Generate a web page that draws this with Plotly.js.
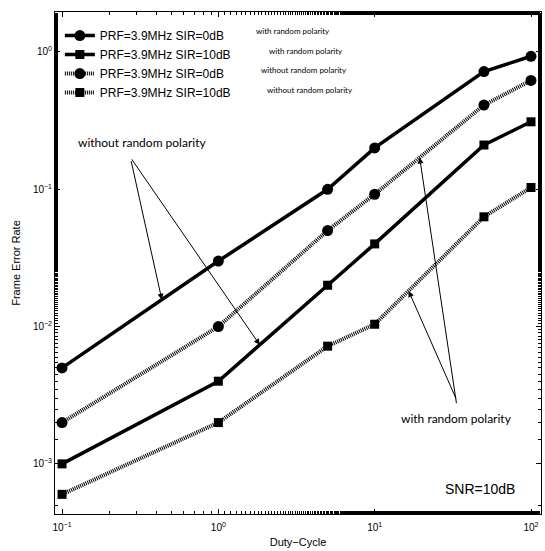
<!DOCTYPE html>
<html>
<head>
<meta charset="utf-8">
<script src="https://cdn.plot.ly/plotly-3.0.1.min.js"></script>
<style>
  html, body { margin: 0; padding: 0; background: #fff; }
  #chart { width: 545px; height: 551px; }
</style>
</head>
<body>
<div id="chart"></div>
<script>
// Duty-cycle values (x) shared by every curve
const dutyCycle = [0.1, 1, 5, 10, 50, 100];

// Frame error rate for each configuration
const ferSir0Random    = [0.005, 0.03, 0.1, 0.2, 0.72, 0.93];
const ferSir10Random   = [0.001, 0.004, 0.02, 0.04, 0.21, 0.31];
const ferSir0NoRandom  = [0.002, 0.01, 0.05, 0.092, 0.41, 0.62];
const ferSir10NoRandom = [0.0006, 0.002, 0.0072, 0.0104, 0.063, 0.103];

const seriesNames = [
  'PRF=3.9MHz SIR=0dB',
  'PRF=3.9MHz SIR=10dB',
  'PRF=3.9MHz SIR=0dB',
  'PRF=3.9MHz SIR=10dB'
];
const seriesNotes = [
  'with random polarity',
  'with random polarity',
  'without random polarity',
  'without random polarity'
];

const xTickVals = [0.1, 1, 10, 100];
const xTickText = ['10<sup>\u22121</sup>', '10<sup>0</sup>', '10<sup>1</sup>', '10<sup>2</sup>'];
const yTickVals = [0.001, 0.01, 0.1, 1];
const yTickText = ['10<sup>\u22123</sup>', '10<sup>\u22122</sup>', '10<sup>\u22121</sup>', '10<sup>0</sup>'];

const FONT = 'Liberation Sans, Arial, Helvetica, sans-serif';
const NOTE_FONT = 'Lato, Open Sans, sans-serif';

const solidLine = { color: 'black', width: 3.5 };
const hatchLine = { color: 'black', width: 4, dash: '1px,1px' };

function curve(y, name, line, symbol, size) {
  return {
    x: dutyCycle, y: y, name: name, type: 'scatter', mode: 'lines+markers',
    line: line,
    marker: { symbol: symbol, size: size, color: 'black' }
  };
}

const traces = [
  curve(ferSir0Random,    seriesNames[0], solidLine, 'circle', 11),
  curve(ferSir10Random,   seriesNames[1], solidLine, 'square', 9),
  curve(ferSir0NoRandom,  seriesNames[2], hatchLine, 'circle', 11),
  curve(ferSir10NoRandom, seriesNames[3], hatchLine, 'square', 9)
];

// small notes next to the legend entries (paper coords)
const noteX = [0.41, 0.437, 0.42, 0.432];
const noteY = [0.962, 0.923, 0.884, 0.845];
const notes = seriesNotes.map((t, i) => ({
  xref: 'paper', yref: 'paper', x: noteX[i], y: noteY[i],
  xanchor: 'left', yanchor: 'middle', showarrow: false,
  text: t, font: { family: NOTE_FONT, size: 8, color: 'black' }
}));

// pointer arrows
function pointer(x, y, ax, ay) {
  return {
    x: Math.log10(x), y: Math.log10(y), xref: 'x', yref: 'y',
    ax: ax, ay: ay, text: '', showarrow: true,
    arrowhead: 2, arrowsize: 1.2, arrowwidth: 1, arrowcolor: 'black'
  };
}

const annotations = notes.concat([
  {
    xref: 'paper', yref: 'paper', x: 0.18, y: 0.74, xanchor: 'center', yanchor: 'middle',
    showarrow: false, text: 'without random polarity',
    font: { family: NOTE_FONT, size: 12, color: 'black' }
  },
  pointer(0.435, 0.0157, -31, -140),
  pointer(1.84, 0.00736, -129, -187),
  {
    xref: 'paper', yref: 'paper', x: 0.827, y: 0.19, xanchor: 'center', yanchor: 'middle',
    showarrow: false, text: 'with random polarity',
    font: { family: NOTE_FONT, size: 12, color: 'black' }
  },
  pointer(19.4, 0.170, 37, 247),
  pointer(16.5, 0.01815, 48, 109),
  {
    xref: 'paper', yref: 'paper', x: 0.875, y: 0.05, xanchor: 'center', yanchor: 'middle',
    showarrow: false, text: 'SNR=10dB',
    font: { family: FONT, size: 14, color: 'black' }
  }
]);

const axisCommon = {
  type: 'log', showgrid: false, zeroline: false,
  showline: true, linecolor: 'black', linewidth: 1, mirror: 'allticks',
  ticks: 'inside', ticklen: 5, tickcolor: 'black', tickwidth: 1,
  minor: { ticks: 'inside', ticklen: 3, tickcolor: 'black', tickwidth: 1, showgrid: false },
  tickfont: { family: FONT, size: 10, color: 'black' }
};

const layout = {
  width: 545, height: 551,
  margin: { l: 55, r: 4, t: 12, b: 37 },
  paper_bgcolor: 'white', plot_bgcolor: 'white',
  showlegend: true,
  legend: {
    x: 0.01, y: 0.982, xanchor: 'left', yanchor: 'top',
    bgcolor: 'rgba(0,0,0,0)', borderwidth: 0,
    font: { family: FONT, size: 12, color: 'black' },
    itemwidth: 30
  },
  xaxis: Object.assign({}, axisCommon, {
    range: [-1.045, 2.064],
    tickvals: xTickVals, ticktext: xTickText,
    ticklabelstandoff: 4,
    title: { text: 'Duty\u2212Cycle', font: { family: FONT, size: 11, color: 'black' }, standoff: 6 }
  }),
  yaxis: Object.assign({}, axisCommon, {
    range: [-3.365, 0.291],
    tickvals: yTickVals, ticktext: yTickText,
    title: { text: 'Frame Error Rate', font: { family: FONT, size: 11, color: 'black' }, standoff: 10 }
  }),
  annotations: annotations
};

Plotly.newPlot('chart', traces, layout, { displayModeBar: false, staticPlot: true });
</script>
</body>
</html>
